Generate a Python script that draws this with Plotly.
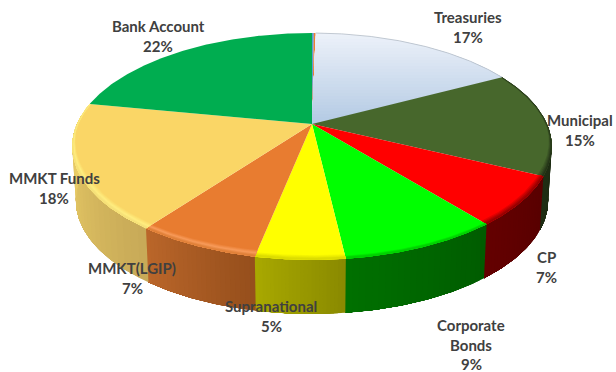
import numpy as np
import plotly.graph_objects as go

# Portfolio allocation, clockwise from twelve o'clock
categories = ["Cash", "Other", "Treasuries", "Municipal", "CP", "Corporate Bonds",
              "Supranational", "MMKT(LGIP)", "MMKT Funds", "Bank Account"]
shares = [0.15, 0.15, 17, 15, 7, 9, 5, 7, 18, 22]
label_texts = ["", "", "17%", "15%", "7%", "9%", "5%", "7%", "18%", "22%"]

# Styling, keyed by category
TOP = {"Cash": "#5b9bd5", "Other": "#ed7d31", "Treasuries": "#c8d9ec", "Municipal": "#47672c",
       "CP": "#ff0000", "Corporate Bonds": "#00ff00", "Supranational": "#ffff00",
       "MMKT(LGIP)": "#e87c30", "MMKT Funds": "#fad666", "Bank Account": "#00ad50"}
WALL = {"Municipal": ("#1d2b12", "#1f2e14"), "CP": ("#580000", "#640000"),
        "Corporate Bonds": ("#005c00", "#007000"), "Supranational": ("#8a8a00", "#a8a800"),
        "MMKT(LGIP)": ("#964f1c", "#ba662a"), "MMKT Funds": ("#c8aa58", "#efd268"),
        "Bank Account": ("#efd268", "#efd268")}
# Rounded rim: pixel distance from the edge at which a tint is reached
BEVEL = {"MMKT Funds": [(7.0, "#fad666"), (3.0, "#ffee80"), (0.8, "#f6e078")],
         "MMKT(LGIP)": [(6.0, "#e87c30"), (3.0, "#f89c5c"), (0.8, "#e08038")],
         "Supranational": [(4.0, "#ffff00"), (1.0, "#dcdc00")],
         "Corporate Bonds": [(2.5, "#00ff00"), (0.8, "#00d000")],
         "CP": [(6.0, "#ff0000"), (1.0, "#960000")],
         "Municipal": [(7.0, "#47672c"), (1.0, "#243418")]}
LABEL_LINES = {"Treasuries": ((468, 17), ["Treasuries"]), "Municipal": ((580, 120), ["Municipal"]),
               "CP": ((546, 257), ["CP"]), "Corporate Bonds": ((471, 325), ["Corporate", "Bonds"]),
               "Supranational": ((271, 306), ["Supranational"]), "MMKT(LGIP)": ((132, 268), ["MMKT(LGIP)"]),
               "MMKT Funds": ((54, 178), ["MMKT Funds"]), "Bank Account": ((158, 26), ["Bank Account"])}

# Perspective view of the disc: hub position, projected radii, foreshortening, wall height
CX, CY, A, B, K = 312.0, 124.0, 235.0, 109.0, 0.198
DEPTH, BASE_SCALE = 54.0, 0.985


def rgb(h):
    return np.array([int(h[i:i + 2], 16) for i in (1, 3, 5)], float)


def mix(c0, c1, t):
    c = rgb(c0) * (1 - t) + rgb(c1) * t
    return "rgb(%d,%d,%d)" % tuple(c.round())


def top_xy(theta, r=1.0):
    u, v = r * np.sin(theta), r * np.cos(theta)
    w = 1 + K * v
    return CX + A * u / w, CY - B * v / w


def base_xy(theta):
    x, y = top_xy(theta)
    return CX + BASE_SCALE * (x - CX), y + DEPTH


def arc(t0, t1, deg=0.5):
    n = max(2, int(np.degrees(abs(t1 - t0)) / deg) + 1)
    return np.linspace(t0, t1, n)


def clip_below(xs, ys, limit):
    # Keep the part of a polygon lying below a horizontal line on screen
    out_x, out_y = [], []
    n = len(xs)
    for i in range(n):
        x0, y0, x1, y1 = xs[i], ys[i], xs[(i + 1) % n], ys[(i + 1) % n]
        if y0 >= limit:
            out_x.append(x0)
            out_y.append(y0)
        if (y0 >= limit) != (y1 >= limit):
            t = (limit - y0) / (y1 - y0)
            out_x.append(x0 + t * (x1 - x0))
            out_y.append(limit)
    return out_x, out_y


def bevel_radius(th, px):
    # Radius lying px pixels inside the rim; the band narrows toward the far side
    x, y = top_xy(th)
    reach = np.hypot(x - CX, y - CY)
    taper = np.clip((0.1 - np.cos(th)) / 0.6, 0.25, 1.0)
    return 1 - px * taper / reach


fig = go.Figure()


def poly(xs, ys, color):
    fig.add_trace(go.Scatter(x=list(xs), y=list(ys), mode="lines", fill="toself", fillcolor=color,
                             line=dict(width=0, color=color), hoverinfo="skip", showlegend=False))


edges = np.cumsum([0] + shares) / sum(shares) * 2 * np.pi
spans = {c: (edges[i], edges[i + 1]) for i, c in enumerate(categories)}

# Side wall: each step repaints to the end of its slice, so no seams show
wall_from, wall_to = np.radians(85), np.radians(275)
for name in categories:
    if name not in WALL:
        continue
    t0, t1 = spans[name]
    t0, t1 = max(t0, wall_from), min(t1, wall_to)
    if t1 <= t0:
        continue
    steps = 24
    for i in range(steps):
        a = t0 + (t1 - t0) * i / steps
        th = arc(a, t1)
        xt, yt = top_xy(th)
        xb, yb = base_xy(th[::-1])
        poly(np.r_[xt, xb], np.r_[yt, yb], mix(*WALL[name], i / (steps - 1)))

# Top face
for name in categories:
    t0, t1 = spans[name]
    th = arc(t0, t1)
    xs, ys = top_xy(th)
    xs, ys = np.r_[CX, xs], np.r_[CY, ys]
    if name == "Treasuries":
        for y_line in np.arange(33, 125, 3.0):
            f = (y_line - 33) / 91
            px, py = clip_below(xs, ys, y_line)
            if px:
                poly(px, py, mix("#ecf1f9", "#b2c9e3", f))
    else:
        poly(xs, ys, TOP[name])
    stops = BEVEL.get(name, [])
    for (p0, c0), (p1, c1) in zip(stops, stops[1:]):
        for f in np.linspace(0, 1, 5)[1:]:
            width = p0 + (p1 - p0) * f
            xo, yo = top_xy(th)
            rev = th[::-1]
            xi, yi = top_xy(rev, bevel_radius(rev, width + 0.6))
            poly(np.r_[xo, xi], np.r_[yo, yi], mix(c0, c1, f))

# Hairline along the far edge of the pale slice
xe, ye = top_xy(arc(*spans["Treasuries"]))
fig.add_trace(go.Scatter(x=xe, y=ye, mode="lines", line=dict(width=0.8, color="#b4bcc6"),
                         hoverinfo="skip", showlegend=False))

# Two- and three-line labels, one annotation per line for even spacing
LINE_GAP = 19.7
for name, text in zip(categories, label_texts):
    if not text:
        continue
    (lx, ly), lines = LABEL_LINES[name]
    for j, line in enumerate(lines + [text]):
        fig.add_annotation(x=lx, y=ly + j * LINE_GAP, text=f"<b>{line}</b>", showarrow=False,
                           xanchor="center", yanchor="middle",
                           font=dict(family="Lato", size=15, color="#404040"))

fig.update_xaxes(range=[0, 616], visible=False, fixedrange=True)
fig.update_yaxes(range=[372, 0], visible=False, fixedrange=True)
fig.update_layout(width=616, height=372, margin=dict(l=0, r=0, t=0, b=0),
                  paper_bgcolor="white", plot_bgcolor="white", showlegend=False)
fig.write_html("out.html", config={"displayModeBar": False})
